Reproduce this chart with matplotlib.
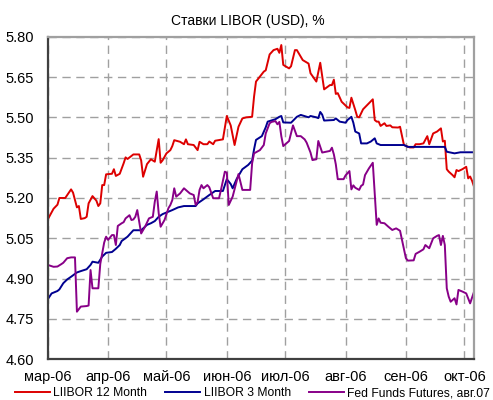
import numpy as np
import pandas as pd
import matplotlib
matplotlib.use('Agg')
import matplotlib.pyplot as plt

plt.rcParams['font.family'] = ['Liberation Sans', 'DejaVu Sans']

# days after 1 March 2006, and rates in %
libor12_days = [0, 3, 5, 6, 9, 12, 13, 15, 16, 17, 19, 20, 21, 23, 25, 26, 27, 28, 29, 30,
                33, 34, 35, 37, 39, 40, 41, 44, 47, 48, 49, 51, 53, 55, 57, 58, 59, 61, 63, 64,
                65, 68, 70, 71, 72, 75, 77, 78, 80, 82, 83, 85, 86, 90, 92, 94, 96, 98, 100, 102,
                105, 106, 107, 111, 112, 114, 116, 118, 119, 120, 121, 124, 125, 127, 128, 131, 134, 135, 138, 140,
                142, 145, 146, 147, 148, 149, 151, 154, 155, 156, 158, 159, 160, 162, 167, 168, 169, 170, 171, 173,
                174, 176, 177, 180, 181, 183, 186, 188, 189, 191, 193, 195, 196, 198, 200, 202, 203, 204, 205, 206,
                208, 209, 210, 211, 213, 215, 216, 217, 218, 219]
libor12 = [5.12, 5.16, 5.175, 5.20, 5.20, 5.232, 5.22, 5.165, 5.17, 5.122, 5.125, 5.13, 5.18, 5.207, 5.19, 5.17, 5.18, 5.248, 5.248, 5.288,
           5.29, 5.307, 5.282, 5.29, 5.329, 5.351, 5.345, 5.362, 5.362, 5.34, 5.279, 5.326, 5.344, 5.335, 5.419, 5.331, 5.34, 5.366, 5.378, 5.393,
           5.415, 5.409, 5.40, 5.418, 5.40, 5.397, 5.378, 5.409, 5.40, 5.40, 5.41, 5.40, 5.413, 5.418, 5.505, 5.47, 5.397, 5.465, 5.496, 5.50,
           5.502, 5.577, 5.633, 5.67, 5.675, 5.734, 5.75, 5.755, 5.74, 5.769, 5.695, 5.682, 5.69, 5.75, 5.75, 5.713, 5.70, 5.664, 5.633, 5.703,
           5.604, 5.62, 5.62, 5.64, 5.587, 5.59, 5.558, 5.537, 5.535, 5.573, 5.527, 5.502, 5.50, 5.53, 5.567, 5.49, 5.484, 5.484, 5.468, 5.478,
           5.468, 5.47, 5.463, 5.462, 5.465, 5.397, 5.388, 5.388, 5.40, 5.40, 5.403, 5.43, 5.40, 5.44, 5.447, 5.459, 5.41, 5.413, 5.307, 5.298,
           5.285, 5.277, 5.304, 5.30, 5.307, 5.316, 5.273, 5.28, 5.264, 5.242]

libor3_days = [0, 2, 5, 6, 8, 10, 12, 15, 17, 20, 22, 23, 26, 28, 30, 33, 35, 37, 38, 41,
               44, 48, 51, 53, 55, 57, 59, 62, 64, 67, 70, 76, 77, 80, 83, 86, 90, 92, 94, 95,
               97, 100, 103, 105, 106, 107, 110, 112, 113, 117, 119, 120, 121, 125, 128, 130, 134, 135, 138, 139,
               140, 141, 142, 147, 148, 150, 153, 154, 156, 157, 158, 160, 161, 164, 166, 168, 169, 171, 183, 185,
               204, 205, 209, 212, 219]
libor3 = [4.823, 4.845, 4.854, 4.86, 4.883, 4.897, 4.907, 4.923, 4.928, 4.935, 4.951, 4.963, 4.959, 4.982, 4.996, 4.999, 5.011, 5.025, 5.04, 5.056,
          5.08, 5.08, 5.10, 5.106, 5.114, 5.13, 5.14, 5.149, 5.155, 5.165, 5.17, 5.17, 5.18, 5.195, 5.211, 5.226, 5.226, 5.27, 5.252, 5.236,
          5.27, 5.307, 5.323, 5.339, 5.381, 5.416, 5.43, 5.463, 5.484, 5.493, 5.502, 5.505, 5.481, 5.48, 5.502, 5.509, 5.50, 5.505, 5.50, 5.497,
          5.52, 5.51, 5.488, 5.49, 5.496, 5.484, 5.48, 5.49, 5.502, 5.48, 5.447, 5.44, 5.403, 5.403, 5.41, 5.422, 5.403, 5.397, 5.397, 5.39,
          5.39, 5.372, 5.366, 5.37, 5.37]

fed_days = [0, 3, 5, 7, 8, 10, 12, 14, 15, 17, 20, 21, 22, 23, 26, 27, 29, 30, 31, 33,
            34, 35, 36, 38, 39, 40, 42, 43, 44, 45, 46, 48, 50, 52, 54, 55, 56, 57, 58, 60,
            62, 63, 64, 65, 66, 68, 70, 73, 75, 76, 77, 78, 79, 80, 82, 83, 85, 88, 89, 91,
            92, 93, 95, 97, 98, 100, 104, 105, 106, 109, 111, 112, 114, 115, 117, 118, 119, 120, 121, 123,
            124, 126, 128, 130, 132, 133, 135, 136, 138, 139, 141, 145, 146, 147, 148, 149, 152, 153, 155, 156,
            157, 158, 160, 161, 162, 163, 165, 167, 169, 170, 171, 173, 175, 177, 179, 181, 182, 184, 185, 188,
            189, 191, 193, 194, 196, 198, 200, 201, 202, 203, 204, 205, 206, 207, 209, 210, 211, 213, 215, 217,
            219]
fed = [4.951, 4.944, 4.945, 4.954, 4.959, 4.976, 4.979, 4.979, 4.777, 4.796, 4.798, 4.80, 4.932, 4.864, 4.864, 4.955, 5.034, 5.056, 5.044, 5.062,
       5.062, 5.025, 5.096, 5.106, 5.11, 5.124, 5.136, 5.118, 5.12, 5.13, 5.155, 5.068, 5.093, 5.124, 5.13, 5.186, 5.224, 5.144, 5.093, 5.118,
       5.162, 5.174, 5.192, 5.236, 5.205, 5.217, 5.236, 5.217, 5.211, 5.174, 5.185, 5.23, 5.248, 5.236, 5.248, 5.24, 5.199, 5.199, 5.23, 5.298,
       5.294, 5.174, 5.205, 5.26, 5.289, 5.23, 5.23, 5.329, 5.366, 5.378, 5.397, 5.44, 5.478, 5.483, 5.486, 5.474, 5.483, 5.43, 5.393, 5.406,
       5.412, 5.47, 5.43, 5.43, 5.418, 5.406, 5.369, 5.341, 5.344, 5.412, 5.369, 5.375, 5.387, 5.362, 5.325, 5.27, 5.27, 5.284, 5.30, 5.232,
       5.247, 5.238, 5.23, 5.245, 5.25, 5.285, 5.31, 5.331, 5.10, 5.124, 5.108, 5.106, 5.093, 5.081, 5.087, 5.078, 5.044, 4.976, 4.967, 4.968,
       4.992, 5.0, 5.009, 5.025, 5.013, 5.05, 5.059, 5.062, 5.025, 5.059, 5.025, 4.864, 4.833, 4.814, 4.827, 4.804, 4.858, 4.852, 4.845, 4.808,
       4.851]

month_names = ['мар-06', 'апр-06', 'май-06', 'июн-06', 'июл-06', 'авг-06', 'сен-06', 'окт-06']

start = pd.Timestamp('2006-03-01')
def to_dates(days):
    return start + pd.to_timedelta(days, unit='D')

fig = plt.figure(figsize=(4.93, 4.0), dpi=100)
ax = fig.add_axes([0.0968, 0.1018, 0.8647, 0.8065])

ax.plot(to_dates(libor12_days), libor12, color='#dd0000', lw=1.4, label='LIIBOR 12 Month')
ax.plot(to_dates(libor3_days), libor3, color='#000090', lw=1.4, label='LIIBOR 3 Month')
ax.plot(to_dates(fed_days), fed, color='#880088', lw=1.4, label='Fed Funds Futures, авг.07')

ax.set_ylim(4.60, 5.80)
ax.set_yticks(np.arange(4.60, 5.81, 0.15))
ax.yaxis.set_major_formatter(matplotlib.ticker.FormatStrFormatter('%.2f'))
ax.set_xlim(start, pd.Timestamp('2006-10-06'))
months = pd.date_range('2006-03-01', '2006-10-01', freq='MS')
ax.set_xticks(months)
ax.set_xticklabels(month_names)

ax.grid(True, color='#a0a0a0', linestyle=(0, (6, 4)), lw=1.0)
ax.tick_params(length=0, labelsize=10.5, colors='black')
ax.tick_params(axis='x', pad=8)
ax.tick_params(axis='y', pad=10)

for s in ['left', 'bottom']:
    ax.spines[s].set_color('#404040')
    ax.spines[s].set_linewidth(1.6)
for s in ['top', 'right']:
    ax.spines[s].set_color('#a0a0a0')
    ax.spines[s].set_linewidth(1.6)

fig.text(0.503, 0.948, 'Ставки LIBOR (USD), %', ha='center', va='center', fontsize=10)

fig.legend(loc='lower left', bbox_to_anchor=(0.03, 0.002), ncol=3, frameon=False,
           borderpad=0, borderaxespad=0, fontsize=8.7, handlelength=2.9,
           handletextpad=0.25, columnspacing=1.55)

fig.savefig('out.png', dpi=100)
